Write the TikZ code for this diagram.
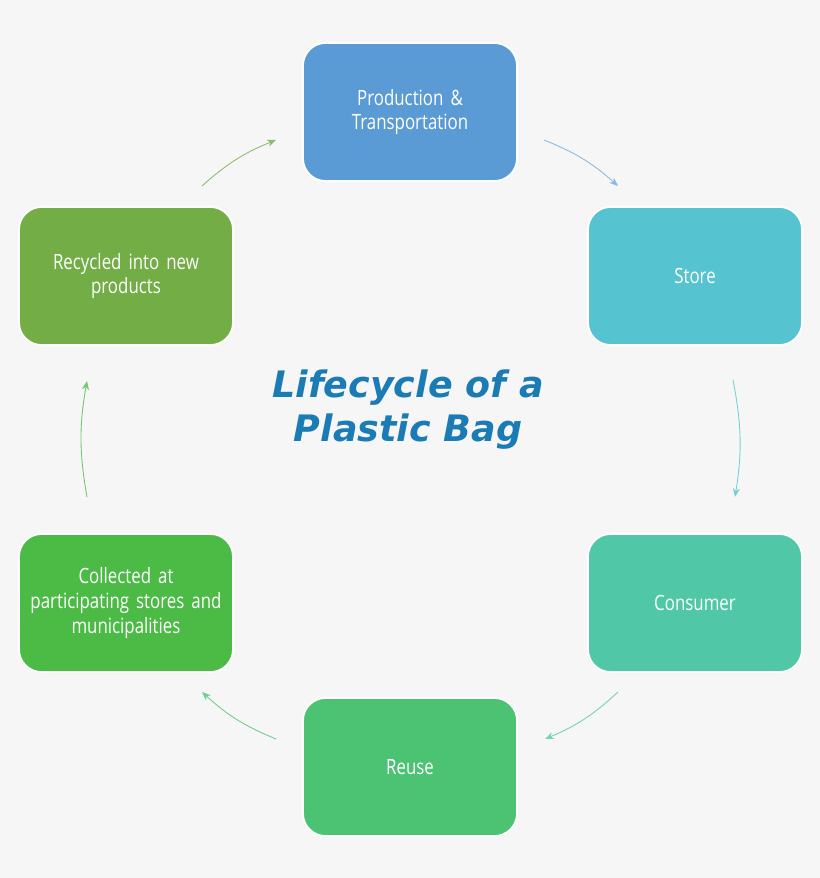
\documentclass[tikz,border=0pt]{standalone}
\usepackage{fontspec}
\setmainfont{Open Sans}[FakeStretch=0.8]
\newfontfamily\titlefont{DejaVu Sans}
\usetikzlibrary{arrows.meta, positioning}
\definecolor{bgrey}{HTML}{F6F6F6}
\definecolor{cprod}{HTML}{5A9BD6}
\definecolor{cstore}{HTML}{56C3D0}
\definecolor{ccons}{HTML}{50C8A8}
\definecolor{creuse}{HTML}{4CC273}
\definecolor{ccoll}{HTML}{4CBB46}
\definecolor{crecy}{HTML}{72AD45}
\definecolor{ctitle}{HTML}{1A7BB5}
\tikzset{stage/.style={draw=white, line width=1pt, rounded corners=0.45cm, minimum width=4.28cm, minimum height=2.76cm, text width=3.9cm, align=center, text=white, font=\large}}
\tikzset{flow/.style={line width=0.5pt, -{Stealth[length=5pt, width=4pt]}}}

\begin{document}
\begin{tikzpicture}[x=0.02cm, y=-0.02cm]
            \fill [bgrey] (0, 0) rectangle (820, 878);

            \node [stage, fill=cprod] (Sprod) at (410, 112) { Production \&\\ Transportation };
            \node [stage, fill=cstore] (Sstore) at (695, 276) { Store };
            \node [stage, fill=ccons] (Scons) at (695, 603) { Consumer };
            \node [stage, fill=creuse] (Sreuse) at (410, 767) { Reuse };
            \node [stage, fill=ccoll] (Scoll) at (126, 603) { Collected at\\ participating stores and\\ municipalities };
            \node [stage, fill=crecy] (Srecy) at (126, 276) { Recycled into new\\ products };

            \node [text=ctitle, font=\titlefont\huge\itshape\bfseries, align=center] (Ttitle) at (408, 410) { Lifecycle of a\\ Plastic Bag };

            \coordinate (A1) at (544, 140); \coordinate (B1) at (618, 186);
            \coordinate (A2) at (733, 380); \coordinate (B2) at (735, 497);
            \coordinate (A3) at (618, 692); \coordinate (B3) at (545, 739);
            \coordinate (A4) at (276, 739); \coordinate (B4) at (202, 692);
            \coordinate (A5) at (87, 497);  \coordinate (B5) at (87, 381);
            \coordinate (A6) at (202, 186); \coordinate (B6) at (276, 140);

            \draw [flow, cprod!70] (A1) to [bend left=10] (B1);
            \draw [flow, cstore!80] (A2) to [bend left=10] (B2);
            \draw [flow, ccons!80] (A3) to [bend left=10] (B3);
            \draw [flow, creuse!80] (A4) to [bend left=10] (B4);
            \draw [flow, ccoll!80] (A5) to [bend left=10] (B5);
            \draw [flow, crecy!80] (A6) to [bend left=10] (B6);
        \end{tikzpicture}
\end{document}
